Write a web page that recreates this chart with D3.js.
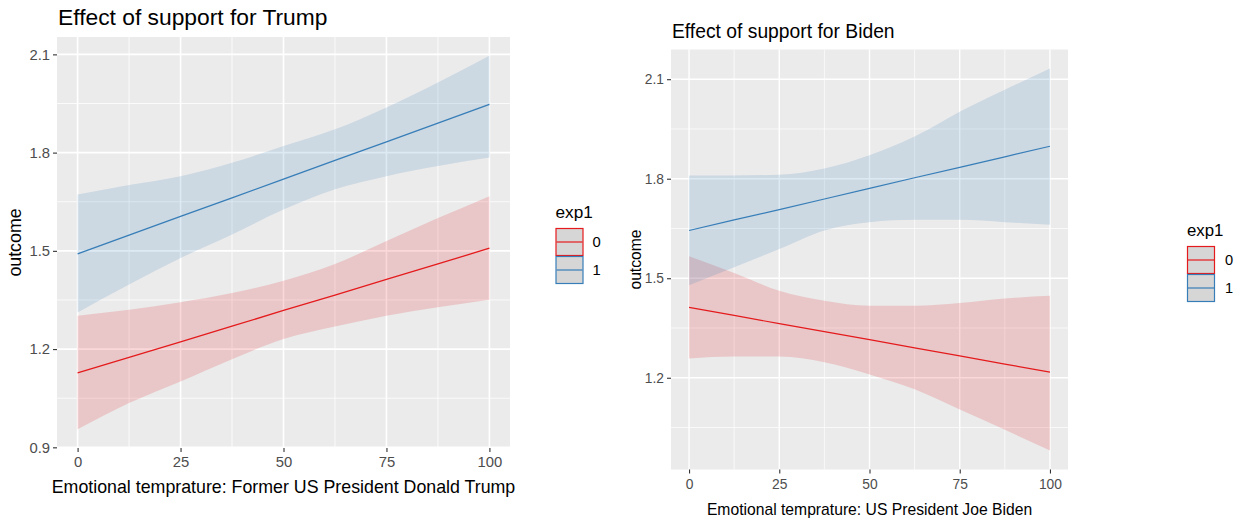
<!DOCTYPE html>
<html>
<head>
<meta charset="utf-8">
<script src="https://cdn.jsdelivr.net/npm/d3@7"></script>
<style>
  body { margin: 0; background: #ffffff; }
  svg { display: block; }
  text { font-family: "Liberation Sans", Arial, Helvetica, sans-serif; }
</style>
</head>
<body>
<svg id="chart" width="1246" height="525"></svg>
<script>
// Emotional temperature grid (x) shared by both models
const temps = [0, 12.5, 25, 37.5, 50, 62.5, 75, 87.5, 100];
const groupLevels = ["0", "1"];
const xTicks = [0, 25, 50, 75, 100];
const yTicks = [0.9, 1.2, 1.5, 1.8, 2.1];

// Trump model: fitted outcome with confidence band, exp1 = 0 / 1
const trumpFit0  = [1.127, 1.175, 1.222, 1.270, 1.318, 1.365, 1.413, 1.460, 1.508];
const trumpLow0  = [0.955, 1.035, 1.101, 1.169, 1.231, 1.269, 1.302, 1.328, 1.351];
const trumpHigh0 = [1.302, 1.320, 1.343, 1.371, 1.409, 1.460, 1.530, 1.600, 1.667];
const trumpFit1  = [1.491, 1.548, 1.605, 1.662, 1.719, 1.776, 1.833, 1.890, 1.947];
const trumpLow1  = [1.312, 1.397, 1.478, 1.550, 1.626, 1.688, 1.728, 1.759, 1.785];
const trumpHigh1 = [1.672, 1.701, 1.728, 1.769, 1.820, 1.871, 1.938, 2.014, 2.096];

// Biden model
const bidenFit0  = [1.412, 1.388, 1.363, 1.339, 1.315, 1.290, 1.266, 1.241, 1.217];
const bidenLow0  = [1.258, 1.264, 1.264, 1.247, 1.210, 1.165, 1.104, 1.043, 0.981];
const bidenHigh0 = [1.566, 1.516, 1.462, 1.432, 1.417, 1.417, 1.425, 1.439, 1.447];
const bidenFit1  = [1.644, 1.676, 1.707, 1.739, 1.771, 1.803, 1.834, 1.866, 1.898];
const bidenLow1  = [1.479, 1.533, 1.588, 1.644, 1.669, 1.676, 1.676, 1.669, 1.661];
const bidenHigh1 = [1.810, 1.810, 1.812, 1.831, 1.871, 1.927, 2.002, 2.068, 2.132];

const groupColors = { "0": "#E41A1C", "1": "#377EB8" };

const svg = d3.select("#chart");

function series(fit, low, high) {
  return temps.map((t, i) => ({ x: t, fit: fit[i], low: low[i], high: high[i] }));
}

function drawPanel(cfg) {
  const g = svg.append("g");
  const { left, right, top, bottom } = cfg.panel;
  const allVals = cfg.groups.flatMap(s => s.data.flatMap(d => [d.low, d.high]));
  const [ymin, ymax] = d3.extent(allVals);
  const pad = (ymax - ymin) * 0.05;
  const x = d3.scaleLinear().domain([-5, 105]).range([left, right]);
  const y = d3.scaleLinear().domain([ymin - pad, ymax + pad]).range([bottom, top]);

  // panel background
  g.append("rect").attr("x", left).attr("y", top)
    .attr("width", right - left).attr("height", bottom - top).attr("fill", "#EBEBEB");

  // minor grid
  const xMinor = [12.5, 37.5, 62.5, 87.5];
  const yMinorAll = [0.75, 1.05, 1.35, 1.65, 1.95, 2.25];
  const yMinor = yMinorAll.filter(v => v > y.domain()[0] && v < y.domain()[1]);
  g.selectAll(".xminor").data(xMinor).join("line")
    .attr("x1", d => x(d)).attr("x2", d => x(d)).attr("y1", top).attr("y2", bottom)
    .attr("stroke", "#ffffff").attr("stroke-width", cfg.minorW);
  g.selectAll(".yminor").data(yMinor).join("line")
    .attr("y1", d => y(d)).attr("y2", d => y(d)).attr("x1", left).attr("x2", right)
    .attr("stroke", "#ffffff").attr("stroke-width", cfg.minorW);
  // major grid
  const yMajor = yTicks.filter(v => v >= y.domain()[0] && v <= y.domain()[1]);
  g.selectAll(".xmajor").data(xTicks).join("line")
    .attr("x1", d => x(d)).attr("x2", d => x(d)).attr("y1", top).attr("y2", bottom)
    .attr("stroke", "#ffffff").attr("stroke-width", cfg.majorW);
  g.selectAll(".ymajor").data(yMajor).join("line")
    .attr("y1", d => y(d)).attr("y2", d => y(d)).attr("x1", left).attr("x2", right)
    .attr("stroke", "#ffffff").attr("stroke-width", cfg.majorW);

  const area = d3.area().x(d => x(d.x)).y0(d => y(d.low)).y1(d => y(d.high))
    .curve(d3.curveMonotoneX);
  const line = d3.line().x(d => x(d.x)).y(d => y(d.fit));

  cfg.groups.forEach(s => {
    g.append("path").datum(s.data).attr("d", area)
      .attr("fill", groupColors[s.key]).attr("fill-opacity", 0.17);
    g.append("path").datum(s.data).attr("d", line)
      .attr("fill", "none").attr("stroke", groupColors[s.key]).attr("stroke-width", cfg.lineW);
  });

  // axes
  const yAxis = d3.axisLeft(y).tickValues(yMajor).tickSize(4).tickPadding(3)
    .tickFormat(d3.format(".1f"));
  const yg = g.append("g").attr("transform", `translate(${left},0)`).call(yAxis);
  const xAxis = d3.axisBottom(x).tickValues(xTicks).tickSize(4).tickPadding(cfg.xPad);
  const xg = g.append("g").attr("transform", `translate(0,${bottom})`).call(xAxis);
  [yg, xg].forEach(ax => {
    ax.attr("font-size", null).attr("font-family", null);
    ax.select(".domain").remove();
    ax.selectAll(".tick line").attr("stroke", "#333333").attr("stroke-width", 1.1);
    ax.selectAll(".tick text").attr("fill", "#4D4D4D")
      .style("font-size", cfg.tickSize + "px");
  });

  // titles
  g.append("text").attr("x", left + 1).attr("y", cfg.titleY)
    .style("font-size", cfg.titleSize + "px").attr("fill", "#000")
    .text(cfg.title);
  g.append("text").attr("x", (left + right) / 2).attr("y", cfg.xTitleY)
    .attr("text-anchor", "middle").style("font-size", cfg.axisTitleSize + "px")
    .attr("fill", "#000").text(cfg.xTitle);
  g.append("text")
    .attr("transform", `translate(${cfg.yTitleX},${(top + bottom) / 2}) rotate(-90)`)
    .attr("text-anchor", "middle").style("font-size", cfg.axisTitleSize + "px")
    .attr("fill", "#000").text("outcome");

  // legend
  const L = cfg.legend;
  const lg = g.append("g");
  lg.append("text").attr("x", L.x).attr("y", L.titleY)
    .style("font-size", L.titleSize + "px").attr("fill", "#000").text("exp1");
  groupLevels.forEach((k, i) => {
    const ky = L.keyY + i * L.key;
    lg.append("rect").attr("x", L.x + 0.5).attr("y", ky + 0.5)
      .attr("width", L.key - 1).attr("height", L.key - 1)
      .attr("fill", "#D6D6D6").attr("stroke", groupColors[k]).attr("stroke-width", 1.2);
    lg.append("line").attr("x1", L.x + 1).attr("x2", L.x + L.key - 1)
      .attr("y1", ky + L.key / 2).attr("y2", ky + L.key / 2)
      .attr("stroke", groupColors[k]).attr("stroke-width", 1.2);
    lg.append("text").attr("x", L.x + L.key + L.labelGap).attr("y", ky + L.key / 2)
      .attr("dy", "0.36em").style("font-size", L.labelSize + "px")
      .attr("fill", "#000").text(k);
  });
}

drawPanel({
  title: "Effect of support for Trump",
  xTitle: "Emotional temprature: Former US President Donald Trump",
  panel: { left: 57, right: 510, top: 37, bottom: 448 },
  groups: [
    { key: "0", data: series(trumpFit0, trumpLow0, trumpHigh0) },
    { key: "1", data: series(trumpFit1, trumpLow1, trumpHigh1) }
  ],
  titleSize: 22.8, titleY: 25, axisTitleSize: 17.8, tickSize: 14.8,
  xTitleY: 493, yTitleX: 21, xPad: 4,
  majorW: 1.6, minorW: 0.8, lineW: 1.3,
  legend: { x: 555.5, titleY: 218, titleSize: 17.2, keyY: 228, key: 28, labelGap: 9, labelSize: 14.8 }
});

drawPanel({
  title: "Effect of support for Biden",
  xTitle: "Emotional temprature: US President Joe Biden",
  panel: { left: 671, right: 1068, top: 49.5, bottom: 469.5 },
  groups: [
    { key: "0", data: series(bidenFit0, bidenLow0, bidenHigh0) },
    { key: "1", data: series(bidenFit1, bidenLow1, bidenHigh1) }
  ],
  titleSize: 19.3, titleY: 38, axisTitleSize: 15.7, tickSize: 13.8,
  xTitleY: 515, yTitleX: 641, xPad: 6,
  majorW: 1.4, minorW: 0.7, lineW: 1.2,
  legend: { x: 1187, titleY: 236, titleSize: 16.8, keyY: 246, key: 28, labelGap: 10, labelSize: 14.6 }
});
</script>
</body>
</html>
